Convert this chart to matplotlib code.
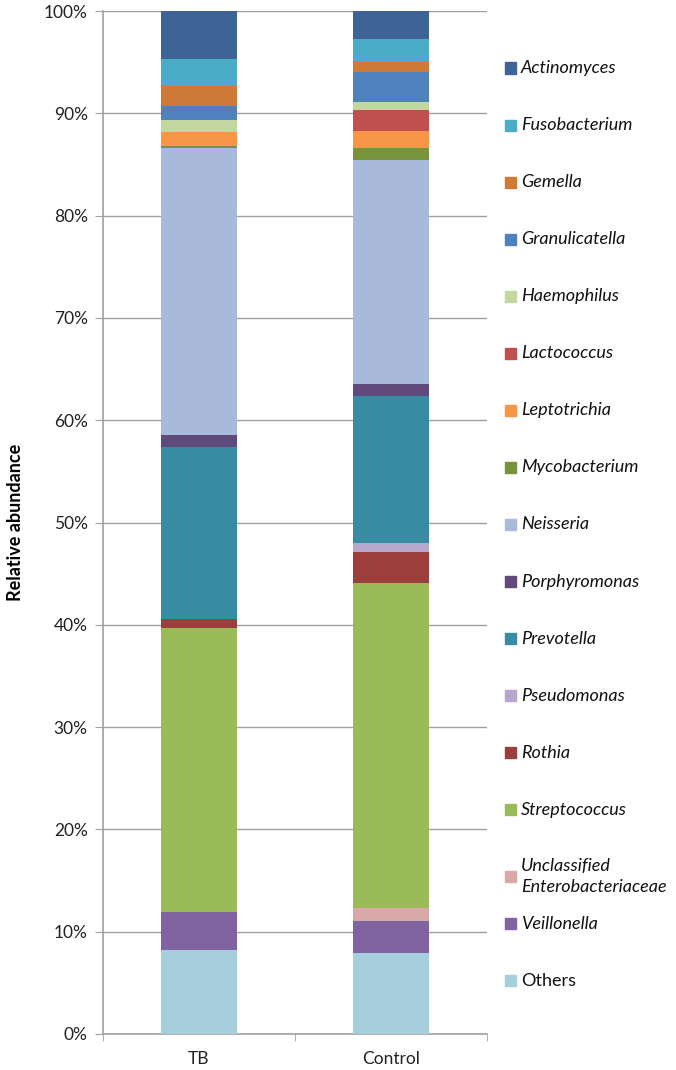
import matplotlib
matplotlib.use("Agg")
import matplotlib.pyplot as plt
from matplotlib.patches import Rectangle
import numpy as np

plt.rcParams['font.family'] = ['Lato', 'DejaVu Sans']

groups = ["TB", "Control"]
taxa = ["Actinomyces", "Fusobacterium", "Gemella", "Granulicatella", "Haemophilus",
        "Lactococcus", "Leptotrichia", "Mycobacterium", "Neisseria", "Porphyromonas",
        "Prevotella", "Pseudomonas", "Rothia", "Streptococcus",
        "Unclassified\nEnterobacteriaceae", "Veillonella", "Others"]
colors = ["#3E6497", "#4BACC6", "#CD7A36", "#4F81BD", "#C4D7A0",
          "#C0504D", "#F79646", "#77933C", "#A9B9D9", "#604A7B",
          "#378BA2", "#B6A8CB", "#9B3E3C", "#9BBB59",
          "#D9A8A8", "#8064A2", "#A7CEDD"]
tb_values = [4.7, 2.6, 2.0, 1.4, 1.1, 0.0, 1.4, 0.2, 28.0, 1.2,
             16.8, 0.0, 0.9, 27.8, 0.0, 3.7, 8.2]
control_values = [2.7, 2.3, 1.0, 2.9, 0.8, 2.0, 1.7, 1.2, 21.9, 1.1,
                  14.4, 0.9, 3.0, 31.8, 1.3, 3.1, 7.9]
italic = [True] * 16 + [False]
yticks = list(range(0, 101, 10))
ytick_labels = [f"{v}%" for v in yticks]

W, H = 676, 1070
fig = plt.figure(figsize=(W / 100, H / 100), dpi=100)
ax = fig.add_axes([103 / W, 1 - 1034 / H, (487 - 103) / W, (1034 - 11) / H])

x = np.arange(len(groups))
data = np.array([tb_values, control_values]).T  # taxa x groups
bottom = np.zeros(len(groups))
for i in range(len(taxa) - 1, -1, -1):
    ax.bar(x, data[i], 0.4, bottom=bottom, color=colors[i], zorder=3, linewidth=0)
    bottom += data[i]

ax.set_xlim(-0.5, 1.5)
ax.set_ylim(0, 100)
ax.set_yticks(yticks)
ax.set_yticklabels(ytick_labels, fontsize=12.5, color="#222222")
ax.set_xticks(x)
ax.set_xticklabels(groups, fontsize=12.5, color="#222222")
ax.set_xticks([-0.5, 0.5, 1.5], minor=True)
ax.tick_params(axis='x', which='major', length=0, pad=12)
ax.tick_params(axis='x', which='minor', length=5, color="#A0A0A0", direction='out')
ax.tick_params(axis='y', length=6, color="#A0A0A0", direction='out', pad=5)
ax.yaxis.grid(True, color="#A0A0A0", linewidth=1, zorder=0)
ax.set_axisbelow(True)
for s in ["top", "right"]:
    ax.spines[s].set_visible(False)
for s in ["left", "bottom"]:
    ax.spines[s].set_color("#A0A0A0")
    ax.spines[s].set_linewidth(1.2)
ax.set_ylabel("Relative abundance", fontsize=13, fontweight="bold", labelpad=14)

# legend, drawn manually at the right
y0 = 68
step = 57.06
for k, name in enumerate(taxa):
    yc = y0 + k * step
    if "\n" in name:
        yc = 876
    fig.patches.append(Rectangle((505 / W, 1 - (yc + 5.5) / H), 11 / W, 11 / H,
                                 transform=fig.transFigure, color=colors[k]))
    if "\n" in name:
        l1, l2 = name.split("\n")
        fig.text(521 / W, 1 - 866 / H, l1, fontsize=13, style="italic",
                 va="center", ha="left", color="#111111")
        fig.text(521 / W, 1 - 887 / H, l2, fontsize=13, style="italic",
                 va="center", ha="left", color="#111111")
    else:
        fig.text(521 / W, 1 - yc / H, name, fontsize=13,
                 style="italic" if italic[k] else "normal",
                 va="center", ha="left", color="#111111")

fig.savefig("out.png", dpi=100)
